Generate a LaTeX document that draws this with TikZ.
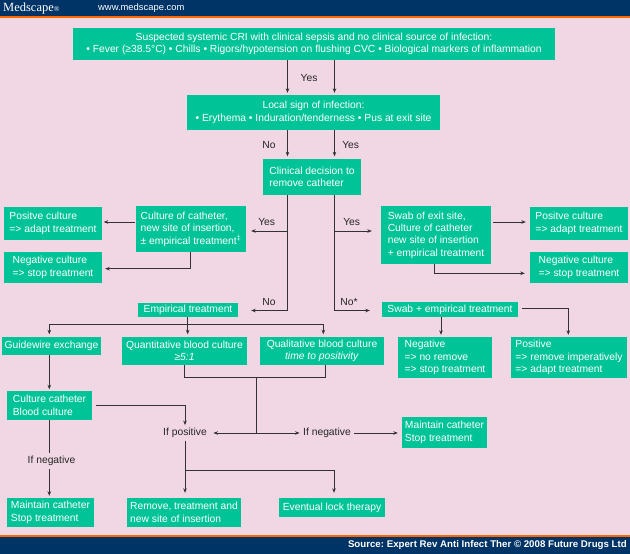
\documentclass[tikz,border=0pt]{standalone}
\usepackage{fontspec}
\setmainfont{Liberation Sans}
\newfontfamily\logofont{Liberation Serif}
\usetikzlibrary{arrows.meta}
\definecolor{bg}{RGB}{240,215,227}
\definecolor{navy}{RGB}{0,51,102}
\definecolor{orng}{RGB}{255,102,0}
\definecolor{grn}{RGB}{0,196,152}
\definecolor{lncol}{RGB}{50,50,50}
\begin{document}
\frenchspacing
\begin{tikzpicture}[x=1pt,y=-1pt,
  font=\fontsize{10.3}{12.4}\selectfont,
  box/.style={fill=grn,text=white,inner sep=0pt,anchor=center},
  lbl/.style={text=black!85,inner xsep=3.5pt,inner ysep=3pt,text height=7.5pt,text depth=2pt},
  ln/.style={draw=lncol,line width=0.9pt},
  arr/.style={ln,-{Stealth[length=4.5pt,width=3.6pt]}}]
\useasboundingbox (0,0) rectangle (630,554);
\fill[bg] (0,0) rectangle (630,554);
\fill[navy] (0,0) rectangle (630,15.5);
\fill[orng] (0,15.5) rectangle (630,17.5);
\fill[orng] (0,535) rectangle (630,537);
\fill[navy] (0,537) rectangle (630,554);

% header / footer texts
\node[text=white,anchor=west,inner sep=0pt] (logo) at (3,8) {\logofont\fontsize{12.5}{12.5}\selectfont Medscape{\fontsize{7.5}{7.5}\selectfont ®}};
\node[text=white,anchor=west,inner sep=0pt] (url) at (98,8) {\fontsize{9.4}{10}\selectfont www.medscape.com};
\node[text=white,anchor=east,inner sep=0pt] (src) at (627,545.5) {\fontsize{9.7}{10}\selectfont\bfseries Source: Expert Rev Anti Infect Ther © 2008 Future Drugs Ltd};

% boxes
\node[box,minimum width=482pt,minimum height=32pt,align=center] (top) at (314,44)
  {Suspected systemic CRI with clinical sepsis and no clinical source of infection:\\
   • Fever (≥38.5°C) • Chills • Rigors/hypotension on flushing CVC • Biological markers of inflammation};
\node[box,minimum width=253pt,minimum height=35pt,align=center] (local) at (313.5,112.5)
  {Local sign of infection:\\ • Erythema • Induration/tenderness • Pus at exit site};
\node[box,minimum width=98pt,minimum height=36pt,align=left] (decide) at (312,177)
  {Clinical decision to\\ remove catheter};
\node[box,minimum width=110pt,minimum height=46pt,align=left] (cult) at (191,229)
  {Culture of catheter,\\ new site of insertion,\\ ± empirical treatment\textsuperscript{‡}};
\node[box,minimum width=98pt,minimum height=33pt,align=left] (posL) at (53,223.5)
  {Positve culture\\ => adapt treatment};
\node[box,minimum width=98pt,minimum height=31pt,align=left] (negL) at (53,267.5)
  {Negative culture\\ => stop treatment};
\node[box,minimum width=110pt,minimum height=58pt,align=left] (swab) at (436,235)
  {Swab of exit site,\\ Culture of catheter\\ new site of insertion\\ + empirical treatment};
\node[box,minimum width=98pt,minimum height=33pt,align=left] (posR) at (579,223.5)
  {Positve culture\\ => adapt treatment};
\node[box,minimum width=98pt,minimum height=31pt,align=left] (negR) at (579,267.5)
  {Negative culture\\ => stop treatment};
\node[box,minimum width=100pt,minimum height=14pt] (emp) at (188,310) {Empirical treatment};
\node[box,minimum width=136pt,minimum height=15pt] (swabemp) at (450,309.5) {Swab + empirical treatment};
\node[box,minimum width=99pt,minimum height=18pt] (guide) at (51.5,346) {Guidewire exchange};
\node[box,minimum width=125pt,minimum height=28pt,align=center] (quant) at (184.5,351)
  {Quantitative blood culture\\ \textit{≥5:1}};
\node[box,minimum width=124pt,minimum height=28pt,align=center] (qual) at (322,351)
  {Qualitative blood culture\\ \textit{time to positivity}};
\node[box,minimum width=94pt,minimum height=41pt,align=left] (neg) at (445,357.5)
  {Negative\\ => no remove\\ => stop treatment};
\node[box,minimum width=116pt,minimum height=41pt,align=left] (pos) at (569,357.5)
  {Positive\\ => remove imperatively\\ => adapt treatment};
\node[box,minimum width=85pt,minimum height=29pt,align=left] (cc) at (49.5,405.5)
  {Culture catheter\\ Blood culture};
\node[box,minimum width=85pt,minimum height=31pt,align=left] (maintR) at (444.5,432.5)
  {Maintain catheter\\ Stop treatment};
\node[box,minimum width=87pt,minimum height=29pt,align=left] (maintL) at (50.5,512.5)
  {Maintain catheter\\ Stop treatment};
\node[box,minimum width=114pt,minimum height=29pt,align=left] (remove) at (184,512.5)
  {Remove, treatment and\\ new site of insertion};
\node[box,minimum width=106pt,minimum height=19pt] (lock) at (332,507.5) {Eventual lock therapy};

% labels
\node[lbl] (yes1) at (309,78.3) {Yes};
\node[lbl] (no2) at (269,145.7) {No};
\node[lbl] (yes2) at (350.7,145.7) {Yes};
\node[lbl] (yesL) at (266.7,223) {Yes};
\node[lbl] (yesR) at (351.7,223) {Yes};
\node[lbl] (noL) at (269,303) {No};
\node[lbl] (noR) at (349,303) {No*};
\node[lbl] (ifpos) at (185,433) {If positive};
\node[lbl] (ifneg) at (327,433) {If negative};
\node[lbl] (ifnegL) at (51.5,461) {If negative};

% helper coordinates
\coordinate (xl) at (287.5,0);
\coordinate (xr) at (334.5,0);
\coordinate (ya) at (0,231);
\coordinate (yb) at (0,310.5);
\coordinate (y222) at (0,222);
\coordinate (xc) at (190,0);
\coordinate (y269) at (0,268.7);
\coordinate (xs) at (434,0);
\coordinate (y273) at (0,273.3);
\coordinate (ybar) at (0,324.3);
\coordinate (xg) at (49.3,0);
\coordinate (xq) at (187.7,0);
\coordinate (xql) at (323.3,0);
\coordinate (yk) at (0,377.3);
\coordinate (xk1) at (184.3,0);
\coordinate (xk2) at (325,0);
\coordinate (xm) at (256,0);
\coordinate (yi) at (0,433);
\coordinate (y405) at (0,405);
\coordinate (ybr) at (0,470.7);
\coordinate (xlock) at (334,0);
\coordinate (xn) at (441,0);
\coordinate (y308) at (0,308.3);
\coordinate (xpp) at (568.3,0);

% connectors
\draw[arr,shorten >=2pt] (top.south -| xl) -- (local.north -| xl);
\draw[arr,shorten >=2pt] (top.south -| xr) -- (local.north -| xr);
\draw[arr,shorten >=2.5pt] (local.south -| xl) -- (decide.north -| xl);
\draw[arr,shorten >=2.5pt] (local.south -| xr) -- (decide.north -| xr);

\draw[arr,shorten >=13pt] (decide.south -| xl) |- (emp.east |- yb);
\draw[arr,shorten >=5pt] (xl |- ya) -- (cult.east |- ya);
\draw[arr,shorten >=12pt] (decide.south -| xr) |- (swabemp.west |- yb);
\draw[arr,shorten >=9pt] (xr |- ya) -- (swab.west |- ya);

\draw[arr,shorten <=1pt,shorten >=1.5pt] (cult.west |- y222) -- (posL.east |- y222);
\draw[arr,shorten >=3pt] (cult.south -| xc) |- (negL.east |- y269);
\draw[arr,shorten <=2pt,shorten >=4pt] (swab.east |- y222) -- (posR.west |- y222);
\draw[arr,shorten >=5pt] (swab.south -| xs) |- (negR.west |- y273);

\draw[arr,shorten >=2.5pt] (emp.south -| xq) -- (quant.north -| xq);
\draw[arr,shorten >=2.5pt] (xql |- ybar) -- (xg |- ybar) -- (guide.north -| xg);
\draw[arr,shorten >=2.5pt] (xql |- ybar) -- (qual.north -| xql);

\draw[ln] (quant.south -| xk1) -- (xk1 |- yk) -- (xk2 |- yk) -- (qual.south -| xk2);
\draw[ln] (xm |- yk) -- (xm |- yi);
\draw[arr,shorten >=3pt] (xm |- yi) -- (ifpos.east);
\draw[arr] (xm |- yi) -- (ifneg.west);
\draw[arr,shorten >=4pt] (ifneg.east) -- (maintR.west |- ifneg.east);

\draw[arr,shorten >=1.5pt] (guide.south -| xg) -- (cc.north -| xg);
\draw[arr,shorten <=3.7pt] (cc.east |- y405) -| (ifpos.north);
\draw[ln] (cc.south -| xg) -- (xg |- ifnegL.north);
\draw[arr,shorten >=2pt] (xg |- ifnegL.south) -- (maintL.north -| xg);

\draw[arr,shorten >=5pt] (ifpos.south) -- (ifpos.south |- remove.north);
\draw[arr,shorten >=5pt] (ifpos.south |- ybr) -| (lock.north -| xlock);

\draw[arr,shorten >=2pt] (swabemp.south -| xn) -- (neg.north -| xn);
\draw[arr,shorten <=3.4pt,shorten >=2pt] (swabemp.east |- y308) -| (pos.north -| xpp);
\end{tikzpicture}
\end{document}
